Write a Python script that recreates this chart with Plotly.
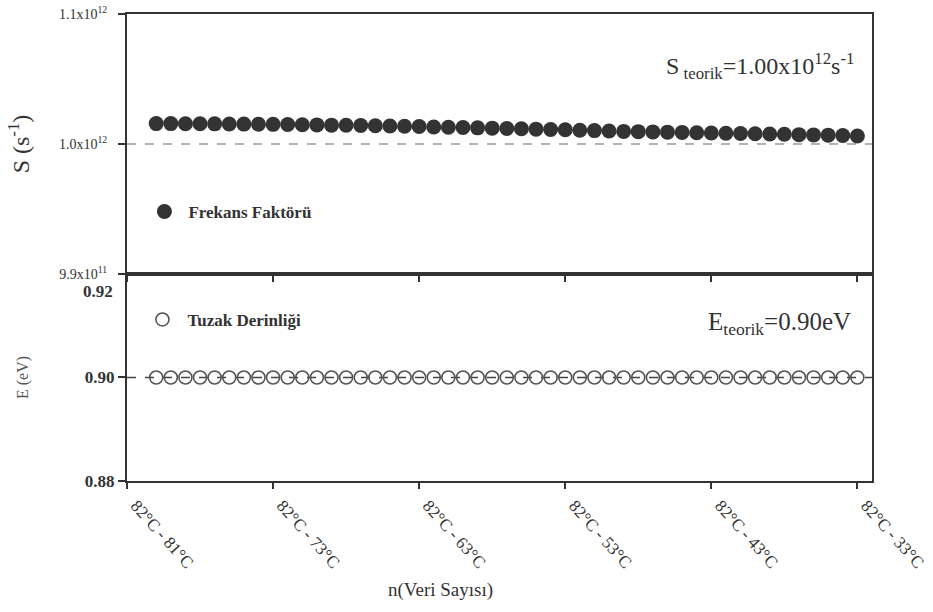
import plotly.graph_objects as go

# ---- data ----
n_vals = list(range(2, 51))
s_vals = [1.00157, 1.00157, 1.00156, 1.00156, 1.00155, 1.00154, 1.00153, 1.00152,
          1.00151, 1.00150, 1.00148, 1.00147, 1.00145, 1.00144, 1.00142, 1.00140,
          1.00138, 1.00136, 1.00134, 1.00131, 1.00129, 1.00127, 1.00124, 1.00122,
          1.00119, 1.00117, 1.00114, 1.00112, 1.00109, 1.00106, 1.00103, 1.00100,
          1.00097, 1.00095, 1.00093, 1.00091, 1.00089, 1.00087, 1.00085, 1.00083,
          1.00081, 1.00079, 1.00077, 1.00075, 1.00072, 1.00070, 1.00068, 1.00065,
          1.00062]  # units of 1e12 s^-1
e_vals = [0.900] * 49
x_tickvals = [0, 10, 20, 30, 40, 50]
x_ticktext = ["82°C - 81°C", "82°C - 73°C", "82°C - 63°C", "82°C - 53°C", "82°C - 43°C", "82°C - 33°C"]
s_tickvals = [0.99, 1.00, 1.01]
s_ticktext = ["9.9x10<sup>11</sup>", "1.0x10<sup>12</sup>", "1.1x10<sup>12</sup>"]
e_tickvals = [0.88, 0.90, 0.92]
e_ticktext = ["<b>0.88</b>", "<b>0.90</b>", ""]
s_theory = 1.00
e_theory = 0.90

FONT = "Liberation Serif, Times New Roman, serif"
INK = "#333333"

fig = go.Figure()
fig.add_trace(go.Scatter(
    x=n_vals, y=s_vals, mode="markers", name="<b>Frekans Faktörü</b>",
    marker=dict(symbol="circle", size=15, color=INK, line=dict(width=0)),
    xaxis="x", yaxis="y", legend="legend"))
fig.add_trace(go.Scatter(
    x=n_vals, y=e_vals, mode="markers", name="<b>Tuzak Derinliği</b>",
    marker=dict(symbol="circle-open", size=13, color="#555555", line=dict(width=1.6)),
    xaxis="x2", yaxis="y2", legend="legend2"))

split = 0.4433
axis_common = dict(showline=True, linecolor=INK, linewidth=2, showgrid=False,
                   zeroline=False, automargin=False)

fig.update_layout(
    width=933, height=612,
    margin=dict(l=127, r=61, t=14, b=131),
    paper_bgcolor="white", plot_bgcolor="white",
    font=dict(family=FONT, color=INK),
    xaxis=dict(domain=[0, 1], range=[0, 51], anchor="y", mirror=True,
               tickvals=x_tickvals, showticklabels=False, ticks="outside",
               ticklen=6, tickwidth=1.5, tickcolor=INK, **axis_common),
    yaxis=dict(domain=[split, 1], range=[0.99, 1.01], anchor="x", mirror=True,
               tickvals=s_tickvals, ticktext=s_ticktext, ticks="outside",
               ticklen=7, tickwidth=2, tickcolor=INK, ticklabelstandoff=8,
               tickfont=dict(family=FONT, size=14, color=INK),
               title=dict(text="S (s<sup>-1</sup>)", font=dict(family=FONT, size=24, color=INK), standoff=22),
               **axis_common),
    xaxis2=dict(domain=[0, 1], range=[0, 51], anchor="y2", mirror=True,
                tickvals=x_tickvals, ticktext=x_ticktext, tickangle=48, ticks="outside",
                ticklen=6, tickwidth=1.5, tickcolor=INK, ticklabelshift=9,
                ticklabeloverflow="allow",
                tickfont=dict(family=FONT, size=17, color=INK), **axis_common),
    yaxis2=dict(domain=[0, split], range=[0.88, 0.92], anchor="x2", mirror=True,
                tickvals=e_tickvals, ticktext=e_ticktext, ticks="outside",
                ticklen=7, tickwidth=2, tickcolor=INK,
                tickfont=dict(family=FONT, size=17, color=INK),
                title=dict(text="E (eV)", font=dict(family=FONT, size=16, color="#555555"), standoff=52),
                **axis_common),
    legend=dict(x=0.018, y=0.576, xanchor="left", yanchor="middle",
                bgcolor="rgba(0,0,0,0)", font=dict(family=FONT, size=17, color=INK),
                itemwidth=38),
    legend2=dict(x=0.014, y=0.345, xanchor="left", yanchor="middle",
                 bgcolor="rgba(0,0,0,0)", font=dict(family=FONT, size=17, color=INK),
                 itemwidth=40),
    showlegend=True,
)

# theoretical reference lines
fig.add_shape(type="line", xref="x domain", yref="y", x0=0, x1=1, y0=s_theory, y1=s_theory,
              line=dict(color="#666666", width=1.2, dash="dash"), layer="below")
fig.add_shape(type="line", xref="x2 domain", yref="y2", x0=0, x1=1, y0=e_theory, y1=e_theory,
              line=dict(color="#444444", width=1.4, dash="dash"), layer="below")

fig.add_annotation(xref="paper", yref="paper", x=0.978, y=0.888, xanchor="right", yanchor="middle",
                   showarrow=False,
                   text="S<sub> teorik</sub>=1.00x10<sup>12</sup>s<sup>-1</sup>",
                   font=dict(family=FONT, size=24, color=INK))
fig.add_annotation(xref="paper", yref="paper", x=0.975, y=0.337, xanchor="right", yanchor="middle",
                   showarrow=False,
                   text="E<sub>teorik</sub>=0.90eV",
                   font=dict(family=FONT, size=25, color=INK))
fig.add_annotation(xref="paper", yref="paper", x=-0.016, y=0.405, xanchor="right", yanchor="middle",
                   showarrow=False, text="<b>0.92</b>",
                   font=dict(family=FONT, size=17, color=INK))
fig.add_annotation(xref="paper", yref="paper", x=0.421, y=-0.233, xanchor="center", yanchor="middle",
                   showarrow=False, text="n(Veri Sayısı)",
                   font=dict(family=FONT, size=19, color=INK))

fig.write_html("out.html")
